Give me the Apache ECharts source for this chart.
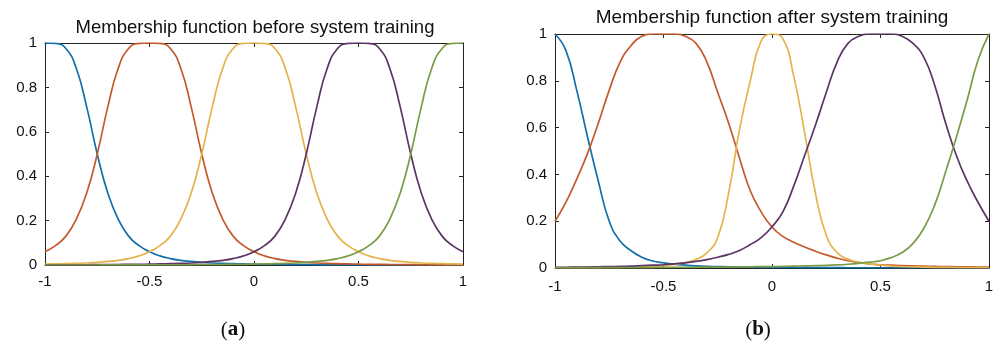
<!DOCTYPE html>
<html>
<head>
<meta charset="utf-8">
<script src="https://cdn.jsdelivr.net/npm/echarts@6/dist/echarts.min.js"></script>
<style>
html,body{margin:0;padding:0;background:#fff;}
#chart{width:997px;height:345px;}
</style>
</head>
<body>
<div id="chart"></div>
<script>
// ---- data ----
const xValues = [-1,-0.95,-0.9,-0.85,-0.8,-0.75,-0.7,-0.65,-0.6,-0.55,-0.5,-0.45,-0.4,-0.35,-0.3,-0.25,-0.2,-0.15,-0.1,-0.05,0,
  0.05,0.1,0.15,0.2,0.25,0.3,0.35,0.4,0.45,0.5,0.55,0.6,0.65,0.7,0.75,0.8,0.85,0.9,0.95,1];
const xTickLabels = ['-1','-0.5','0','0.5','1'];
const yTickLabels = ['0','0.2','0.4','0.6','0.8','1'];
const titleA = 'Membership function before system training';
const titleB = 'Membership function after system training';
const captionA = 'a';
const captionB = 'b';

// (a) before training
const beforeMF1 = [1,0.998,0.975,0.885,0.71,0.5,0.325,0.207,0.13,0.087,0.06,0.041,0.029,0.021,0.016,0.012,0.009,0.007,0.006,0.005,0.004,
  0.003,0.003,0.002,0.002,0.002,0.001,0.001,0.001,0.001,0.001,0.001,0.001,0.001,0.001,0,0,0,0,0,0];
const beforeMF2 = [0.06,0.087,0.13,0.207,0.325,0.5,0.71,0.885,0.975,0.998,1,0.998,0.975,0.885,0.71,0.5,0.325,0.207,0.13,0.087,0.06,
  0.041,0.029,0.021,0.016,0.012,0.009,0.007,0.006,0.005,0.004,0.003,0.003,0.002,0.002,0.002,0.001,0.001,0.001,0.001,0.001];
const beforeMF3 = [0.004,0.005,0.006,0.007,0.009,0.012,0.016,0.021,0.029,0.041,0.06,0.087,0.13,0.207,0.325,0.5,0.71,0.885,0.975,0.998,1,
  0.998,0.975,0.885,0.71,0.5,0.325,0.207,0.13,0.087,0.06,0.041,0.029,0.021,0.016,0.012,0.009,0.007,0.006,0.005,0.004];
const beforeMF4 = [0.001,0.001,0.001,0.001,0.001,0.002,0.002,0.002,0.003,0.003,0.004,0.005,0.006,0.007,0.009,0.012,0.016,0.021,0.029,0.041,0.06,
  0.087,0.13,0.207,0.325,0.5,0.71,0.885,0.975,0.998,1,0.998,0.975,0.885,0.71,0.5,0.325,0.207,0.13,0.087,0.06];
const beforeMF5 = [0,0,0,0,0,0,0.001,0.001,0.001,0.001,0.001,0.001,0.001,0.001,0.001,0.002,0.002,0.002,0.003,0.003,0.004,
  0.005,0.006,0.007,0.009,0.012,0.016,0.021,0.029,0.041,0.06,0.087,0.13,0.207,0.325,0.5,0.71,0.885,0.975,0.998,1];

// (b) after training
const afterMF1 = [1,0.93,0.76,0.56,0.37,0.2,0.115,0.074,0.046,0.03,0.022,0.016,0.012,0.009,0.007,0.006,0.005,0.004,0.004,0.003,0.003,
  0.003,0.002,0.002,0.002,0.002,0.002,0.001,0.001,0.001,0.001,0.001,0.001,0.001,0.001,0.001,0.001,0.001,0.001,0.001,0.001];
const afterMF2 = [0.2,0.28,0.38,0.49,0.62,0.76,0.88,0.95,0.99,1,1,1,0.99,0.96,0.88,0.75,0.62,0.47,0.33,0.24,0.175,
  0.135,0.11,0.09,0.072,0.056,0.042,0.031,0.023,0.017,0.014,0.012,0.01,0.009,0.008,0.007,0.006,0.005,0.005,0.004,0.004];
const afterMF3 = [0.001,0.001,0.001,0.002,0.002,0.003,0.003,0.004,0.005,0.007,0.01,0.015,0.023,0.037,0.065,0.13,0.32,0.59,0.8,0.97,1,
  0.98,0.82,0.58,0.32,0.14,0.066,0.038,0.025,0.018,0.012,0.008,0.006,0.005,0.004,0.003,0.003,0.002,0.002,0.002,0.001];
const afterMF4 = [0.003,0.003,0.004,0.004,0.005,0.006,0.007,0.008,0.01,0.012,0.014,0.018,0.022,0.028,0.036,0.046,0.058,0.075,0.1,0.13,0.176,
  0.24,0.35,0.48,0.61,0.75,0.88,0.96,0.99,1,1,1,0.99,0.96,0.9,0.78,0.62,0.48,0.37,0.28,0.2];
const afterMF5 = [0.001,0.001,0.001,0.001,0.002,0.002,0.002,0.002,0.002,0.002,0.003,0.003,0.003,0.003,0.004,0.004,0.004,0.005,0.005,0.006,0.006,
  0.007,0.008,0.009,0.01,0.011,0.013,0.016,0.02,0.025,0.031,0.045,0.066,0.105,0.17,0.27,0.41,0.56,0.72,0.89,1];

const mfColors = ['#1270aa','#c45a2c','#e4b34c','#5c3565','#7a9c47'];

// ---- chart ----
const chart = echarts.init(document.getElementById('chart'), null, {renderer:'canvas'});
const FONT = '"Liberation Sans", Arial, sans-serif';
const axisColor = '#222';

function xAxes(gi, margin){
  return [
    {gridIndex:gi, type:'value', position:'bottom', min:-1, max:1, interval:0.5,
     axisLine:{show:true, onZero:false, lineStyle:{color:axisColor, width:1}},
     axisTick:{show:true, inside:true, length:4, lineStyle:{color:axisColor}},
     axisLabel:{show:true, margin:margin, color:'#111', fontSize:15, fontFamily:FONT,
       formatter:v=>xTickLabels[Math.round((v+1)/0.5)]},
     splitLine:{show:false}},
    {gridIndex:gi, type:'value', position:'top', min:-1, max:1, interval:0.5,
     axisLine:{show:true, onZero:false, lineStyle:{color:axisColor, width:1}},
     axisTick:{show:true, inside:true, length:4, lineStyle:{color:axisColor}},
     axisLabel:{show:false}, splitLine:{show:false}}
  ];
}
function yAxes(gi){
  return [
    {gridIndex:gi, type:'value', position:'left', min:0, max:1, interval:0.2,
     axisLine:{show:true, onZero:false, lineStyle:{color:axisColor, width:1}},
     axisTick:{show:true, inside:true, length:4, lineStyle:{color:axisColor}},
     axisLabel:{show:true, margin:8, color:'#111', fontSize:15, fontFamily:FONT,
       formatter:v=>yTickLabels[Math.round(v/0.2)]},
     splitLine:{show:false}},
    {gridIndex:gi, type:'value', position:'right', min:0, max:1, interval:0.2,
     axisLine:{show:true, onZero:false, lineStyle:{color:axisColor, width:1}},
     axisTick:{show:true, inside:true, length:4, lineStyle:{color:axisColor}},
     axisLabel:{show:false}, splitLine:{show:false}}
  ];
}
function mk(ys, gi, color){
  return {type:'line', xAxisIndex:gi*2, yAxisIndex:gi*2,
    data:xValues.map((x,i)=>[x, ys[i]]),
    showSymbol:false, smooth:0.5, silent:true,
    lineStyle:{width:1.7, color:color}, itemStyle:{color:color}};
}

const option = {
  animation:false,
  backgroundColor:'#fff',
  grid:[
    {left:45, top:43, width:418, height:222, containLabel:false},
    {left:555, top:34, width:434, height:234, containLabel:false}
  ],
  xAxis:[...xAxes(0,9), ...xAxes(1,11)],
  yAxis:[...yAxes(0), ...yAxes(1)],
  graphic:[
    {type:'text', x:255, y:28, style:{text:titleA, font:'18.5px '+FONT, fill:'#111', align:'center', verticalAlign:'middle'}},
    {type:'text', x:772, y:18, style:{text:titleB, font:'19px '+FONT, fill:'#111', align:'center', verticalAlign:'middle'}},
    {type:'text', x:233, y:330, style:{text:'{p|(}{b|'+captionA+'}{p|)}', align:'center', verticalAlign:'middle',
      rich:{p:{fontFamily:'"Liberation Serif", serif', fontSize:21, fill:'#111', color:'#111'},
            b:{fontFamily:'"Liberation Serif", serif', fontSize:21, fontWeight:'bold', fill:'#111', color:'#111'}}}},
    {type:'text', x:758, y:330, style:{text:'{p|(}{b|'+captionB+'}{p|)}', align:'center', verticalAlign:'middle',
      rich:{p:{fontFamily:'"Liberation Serif", serif', fontSize:21, fill:'#111', color:'#111'},
            b:{fontFamily:'"Liberation Serif", serif', fontSize:21, fontWeight:'bold', fill:'#111', color:'#111'}}}}
  ],
  series:[
    mk(beforeMF1,0,mfColors[0]), mk(beforeMF2,0,mfColors[1]), mk(beforeMF3,0,mfColors[2]),
    mk(beforeMF4,0,mfColors[3]), mk(beforeMF5,0,mfColors[4]),
    mk(afterMF1,1,mfColors[0]), mk(afterMF2,1,mfColors[1]), mk(afterMF3,1,mfColors[2]),
    mk(afterMF4,1,mfColors[3]), mk(afterMF5,1,mfColors[4])
  ]
};
chart.setOption(option);
</script>
</body>
</html>
